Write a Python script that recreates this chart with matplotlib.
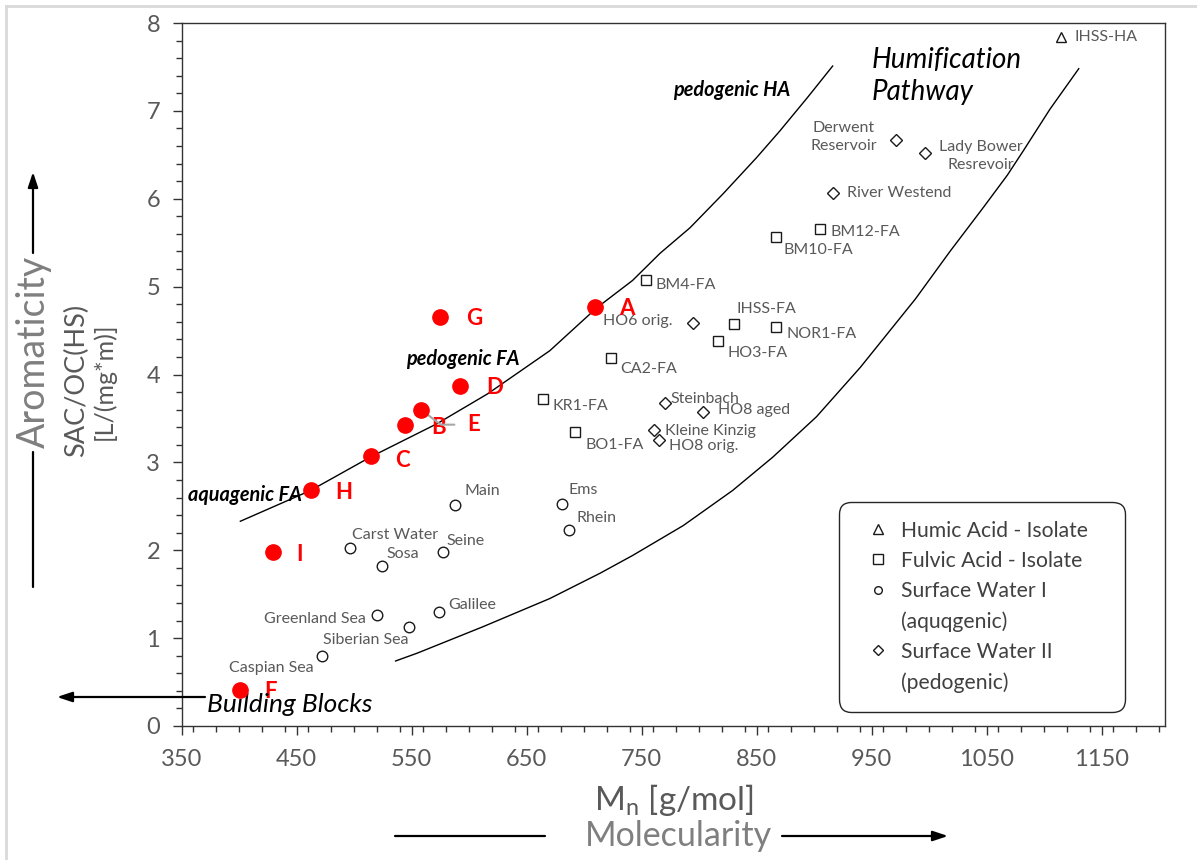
import matplotlib
matplotlib.use("Agg")
import matplotlib.pyplot as plt
from matplotlib.lines import Line2D
from matplotlib.ticker import MultipleLocator

# ---------------------------------------------------------------- data
humic_names = ["IHSS-HA"]
humic_mn = [1115]
humic_sac = [7.84]

fulvic_names = ["BM4-FA", "BM10-FA", "BM12-FA", "IHSS-FA", "NOR1-FA",
                "HO3-FA", "CA2-FA", "KR1-FA", "BO1-FA"]
fulvic_mn = [754, 867, 905, 830, 867, 816, 723, 664, 692]
fulvic_sac = [5.08, 5.56, 5.66, 4.57, 4.54, 4.38, 4.19, 3.72, 3.35]

aqua_names = ["Main", "Ems", "Rhein", "Carst Water", "Sosa", "Seine",
              "Greenland Sea", "Siberian Sea", "Galilee", "Caspian Sea"]
aqua_mn = [588, 681, 687, 496, 524, 577, 520, 548, 574, 472]
aqua_sac = [2.51, 2.53, 2.23, 2.03, 1.82, 1.98, 1.26, 1.13, 1.30, 0.80]

pedo_names = ["Derwent\nReservoir", "Lady Bower\nResrevoir", "River Westend",
              "HO6 orig.", "Steinbach", "HO8 aged", "Kleine Kinzig", "HO8 orig."]
pedo_mn = [971, 996, 916, 795, 770, 803, 761, 765]
pedo_sac = [6.67, 6.52, 6.07, 4.59, 3.67, 3.57, 3.37, 3.25]

sample_names = ["A", "B", "C", "D", "E", "F", "G", "H", "I"]
sample_mn = [709, 544, 515, 592, 558, 401, 575, 462, 429]
sample_sac = [4.77, 3.42, 3.07, 3.87, 3.60, 0.41, 4.66, 2.69, 1.98]

# boundary lines
upper_mn = [401, 462, 514, 572, 616, 670, 711, 742, 766, 792, 821, 850, 870, 894, 916]
upper_sac = [2.33, 2.68, 3.06, 3.44, 3.78, 4.27, 4.76, 5.07, 5.38, 5.67, 6.06, 6.47, 6.77, 7.15, 7.51]
lower_mn = [536, 555, 612, 670, 714, 742, 786, 829, 864, 902, 940, 988, 1018, 1047, 1068, 1082, 1105, 1130]
lower_sac = [0.74, 0.83, 1.13, 1.45, 1.74, 1.94, 2.28, 2.68, 3.06, 3.52, 4.08, 4.86, 5.40, 5.90, 6.27, 6.55, 7.02, 7.48]

x_ticks = [350, 450, 550, 650, 750, 850, 950, 1050, 1150]
y_ticks = [0, 1, 2, 3, 4, 5, 6, 7, 8]

# label placement (pixel offsets from the marker, horizontal alignment)
label_pos = {
    "IHSS-HA": (13, 0, "left"),
    "BM4-FA": (9, -5, "left"), "BM10-FA": (7, -13, "left"), "BM12-FA": (11, -3, "left"),
    "IHSS-FA": (3, 15, "left"), "NOR1-FA": (10, -7, "left"), "HO3-FA": (10, -12, "left"),
    "CA2-FA": (10, -11, "left"), "KR1-FA": (10, -7, "left"), "BO1-FA": (10, -13, "left"),
    "Main": (9, 14, "left"), "Ems": (6, 14, "left"), "Rhein": (7, 12, "left"),
    "Carst Water": (2, 13, "left"), "Sosa": (5, 12, "left"), "Seine": (4, 11, "left"),
    "Greenland Sea": (-11, -4, "right"), "Siberian Sea": (-1, -13, "right"),
    "Galilee": (9, 7, "left"), "Caspian Sea": (-8, -12, "right"),
    "Derwent\nReservoir": (-52, 3, "center"), "Lady Bower\nResrevoir": (56, -3, "center"),
    "River Westend": (14, 0, "left"), "HO6 orig.": (-21, 2, "right"),
    "Steinbach": (6, 4, "left"), "HO8 aged": (15, 2, "left"),
    "Kleine Kinzig": (11, -1, "left"), "HO8 orig.": (10, -6, "left"),
}
sample_pos = {"A": (25, -2), "B": (26, -2), "C": (24, -4), "D": (26, -2), "E": (46, -15),
              "F": (24, -2), "G": (26, -2), "H": (25, -3), "I": (24, -2)}

FONT = "Lato"
GREY = "#595959"
W, H = 1197, 860

fig = plt.figure(figsize=(W / 100, H / 100), dpi=100)
ax = fig.add_axes([181.7 / W, 1 - 726 / H, (1165 - 181.7) / W, (726 - 23) / H])


def fpx(x, y):
    """figure pixel position measured from the top-left corner"""
    return (x / W, 1 - y / H)


# boundary curves
ax.plot(upper_mn, upper_sac, color="black", lw=1.0, zorder=2)
ax.plot(lower_mn, lower_sac, color="black", lw=1.0, zorder=2)

open_style = dict(ls="none", mfc="white", mec="#1a1a1a", mew=1.0, zorder=3)
ax.plot(humic_mn, humic_sac, marker="^", ms=7.5, **open_style)
ax.plot(fulvic_mn, fulvic_sac, marker="s", ms=7.2, **open_style)
ax.plot(aqua_mn, aqua_sac, marker="o", ms=7.6, **open_style)
ax.plot(pedo_mn, pedo_sac, marker="D", ms=5.8, **open_style)
ax.plot(sample_mn, sample_sac, marker="o", ms=11, ls="none", color="red", zorder=4)

for names, xs, ys in [(humic_names, humic_mn, humic_sac), (fulvic_names, fulvic_mn, fulvic_sac),
                      (aqua_names, aqua_mn, aqua_sac), (pedo_names, pedo_mn, pedo_sac)]:
    for name, x, y in zip(names, xs, ys):
        dx, dy, ha = label_pos[name]
        ax.annotate(name, (x, y), xytext=(dx, dy), textcoords="offset pixels",
                    ha=ha, va="center", multialignment="center", linespacing=1.4,
                    fontsize=11.5, family=FONT, color=GREY)

for name, x, y in zip(sample_names, sample_mn, sample_sac):
    dx, dy = sample_pos[name]
    props = None
    if name == "E":
        props = dict(arrowstyle="-", color="#a6a6a6", lw=1.5, shrinkA=7, shrinkB=5,
                     relpos=(0, 0.5), connectionstyle="angle,angleA=0,angleB=-37,rad=0")
    ax.annotate(name, (x, y), xytext=(dx, dy), textcoords="offset pixels",
                ha="left", va="center", fontsize=16, family=FONT, fontweight="bold",
                color="red", arrowprops=props)

# curve names
curve_font = dict(ha="center", va="center", fontsize=14.3, family=FONT,
                  style="italic", weight="bold")
ax.text(828, 7.24, "pedogenic HA", **curve_font)
ax.text(594, 4.18, "pedogenic FA", **curve_font)
ax.text(405, 2.63, "aquagenic FA", **curve_font)
ax.text(950, 7.40, "Humification\nPathway", ha="left", va="center", fontsize=20,
        family=FONT, style="italic", linespacing=1.3)
ax.text(372, 0.24, "Building Blocks", ha="left", va="center", fontsize=19,
        family=FONT, style="italic")

# axes
ax.set_xlim(350, 1205)
ax.set_ylim(0, 8)
ax.set_xticks(x_ticks)
ax.set_xticklabels([str(v) for v in x_ticks], family=FONT, fontsize=17, color=GREY)
ax.set_yticks(y_ticks)
ax.set_yticklabels([str(v) for v in y_ticks], family=FONT, fontsize=17, color=GREY)
ax.xaxis.set_minor_locator(MultipleLocator(20))
ax.yaxis.set_minor_locator(MultipleLocator(0.2))
ax.tick_params(which="major", direction="out", length=6.5, width=1.0, color="#333333")
ax.tick_params(which="minor", direction="out", length=4, width=1.0, color="#333333")
ax.tick_params(axis="x", pad=10)
ax.tick_params(axis="y", pad=9)
for sp in ax.spines.values():
    sp.set_color("#333333")
    sp.set_linewidth(1.0)

# legend
handles = [
    Line2D([], [], ls="none", marker="^", ms=7, mfc="white", mec="#1a1a1a", mew=1.0),
    Line2D([], [], ls="none", marker="s", ms=7, mfc="white", mec="#1a1a1a", mew=1.0),
    Line2D([], [], ls="none", marker="o", ms=5.5, mfc="white", mec="#1a1a1a", mew=1.0),
    Line2D([], [], ls="none", marker=""),
    Line2D([], [], ls="none", marker="D", ms=5.5, mfc="white", mec="#1a1a1a", mew=1.0),
    Line2D([], [], ls="none", marker=""),
]
labels = ["Humic Acid - Isolate", "Fulvic Acid - Isolate", "Surface Water I",
          "(aquqgenic)", "Surface Water II", "(pedogenic)"]
leg = ax.legend(handles, labels, loc="upper left", bbox_to_anchor=(0.668, 0.031, 0.291, 0.288),
                mode="expand", fancybox=True, framealpha=1, edgecolor="#262626",
                prop=dict(family=FONT, size=15.2), labelcolor="#404040", borderpad=0.9,
                labelspacing=0.48, handlelength=1.9, handletextpad=0.15, borderaxespad=0)
leg.get_frame().set_linewidth(1.0)
leg.get_frame().set_boxstyle("round", pad=0, rounding_size=0.6)

# axis titles and direction arrows outside the plot
fig.text(*fpx(674, 800), r"M$_\mathregular{n}$ [g/mol]", ha="center", va="center",
         fontsize=24, family=FONT, color=GREY)
fig.text(*fpx(678, 836), "Molecularity", ha="center", va="center",
         fontsize=24.5, family=FONT, color="#7f7f7f")
fig.text(*fpx(77, 380), "SAC/OC(HS)", ha="center", va="center", rotation=90,
         fontsize=19.5, family=FONT, color=GREY)
fig.text(*fpx(104, 381), "[L/(mg*m)]", ha="center", va="center", rotation=90,
         fontsize=18, family=FONT, color=GREY)
fig.text(*fpx(34, 352), "Aromaticity", ha="center", va="center", rotation=90,
         fontsize=27, family=FONT, color="#7f7f7f")

arrow = dict(arrowstyle="-|>,head_length=0.9,head_width=0.3", color="black", lw=1.6,
             shrinkA=0, shrinkB=0)
line = dict(arrowstyle="-", color="black", lw=1.6, shrinkA=0, shrinkB=0)
ax.annotate("", xy=fpx(948, 836), xytext=fpx(782, 836), xycoords="figure fraction",
            textcoords="figure fraction", arrowprops=arrow, annotation_clip=False)
ax.annotate("", xy=fpx(545, 836), xytext=fpx(395, 836), xycoords="figure fraction",
            textcoords="figure fraction", arrowprops=line, annotation_clip=False)
ax.annotate("", xy=fpx(33, 172), xytext=fpx(33, 253), xycoords="figure fraction",
            textcoords="figure fraction", arrowprops=arrow, annotation_clip=False)
ax.annotate("", xy=fpx(33, 452), xytext=fpx(33, 587), xycoords="figure fraction",
            textcoords="figure fraction", arrowprops=line, annotation_clip=False)
ax.annotate("", xy=fpx(57, 697), xytext=fpx(205, 697), xycoords="figure fraction",
            textcoords="figure fraction", arrowprops=arrow, annotation_clip=False)

# light frame of the original screenshot
fig.add_artist(Line2D([6 / W, 6 / W], [0, 1 - 6 / H], transform=fig.transFigure,
                      color="#d9d9d9", lw=2))
fig.add_artist(Line2D([6 / W, 1], [1 - 6 / H, 1 - 6 / H], transform=fig.transFigure,
                      color="#d9d9d9", lw=2))

fig.savefig("out.png", dpi=100, facecolor="white")
